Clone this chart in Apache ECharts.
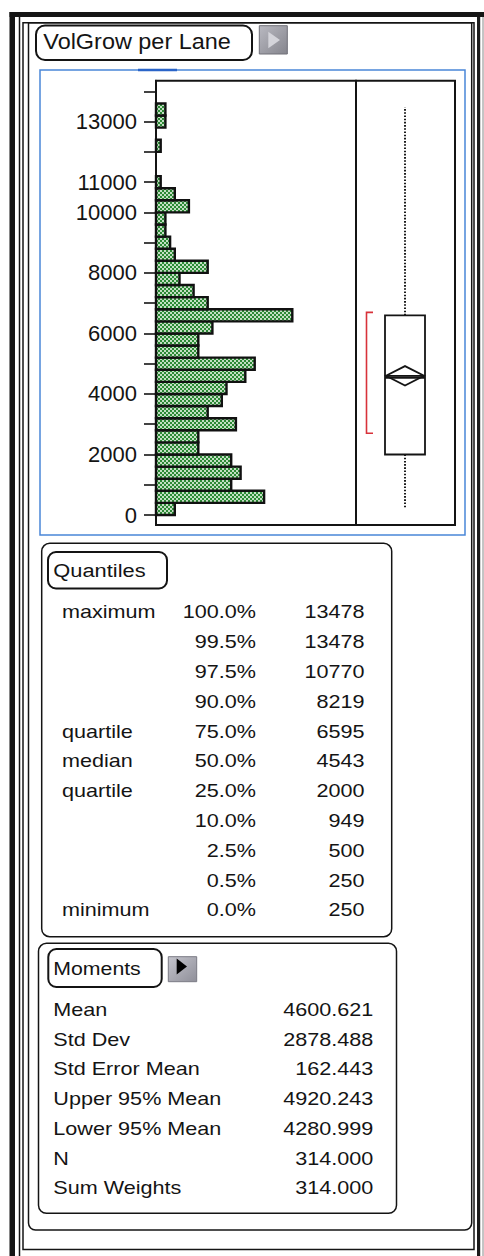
<!DOCTYPE html>
<html>
<head>
<meta charset="utf-8">
<script src="https://cdn.jsdelivr.net/npm/echarts@6/dist/echarts.min.js"></script>
<style>
  html, body { margin: 0; padding: 0; background: #ffffff; }
  #main { width: 484px; height: 1256px; }
</style>
</head>
<body>
<div id="main"></div>
<script>
// Histogram of VolGrow per Lane: lower edge of each bin and its count
const binWidth = 400;
const binLows = [0, 400, 800, 1200, 1600, 2000, 2400, 2800, 3200, 3600, 4000, 4400,
  4800, 5200, 5600, 6000, 6400, 6800, 7200, 7600, 8000, 8400, 8800, 9200, 9600,
  10000, 10400, 10800, 11200, 11600, 12000, 12400, 12800, 13200];
const binCounts = [4, 23, 16, 18, 16, 9, 9, 17, 11, 14, 15, 19,
  21, 9, 9, 12, 29, 11, 8, 5, 11, 4, 3, 2, 2,
  7, 4, 1, 0, 0, 1, 0, 2, 2];

// Value axis ticks and the ticks that carry a label
const tickValues = [0, 1000, 2000, 3000, 4000, 5000, 6000, 7000, 8000, 9000, 10000,
  11000, 12000, 13000, 14000];
const tickLabelValues = [0, 2000, 4000, 6000, 8000, 10000, 11000, 13000];

// Quantiles report
const quantileNames = ['maximum', '', '', '', 'quartile', 'median', 'quartile', '', '', '', 'minimum'];
const quantilePercents = ['100.0%', '99.5%', '97.5%', '90.0%', '75.0%', '50.0%', '25.0%',
  '10.0%', '2.5%', '0.5%', '0.0%'];
const quantileValues = [13478, 13478, 10770, 8219, 6595, 4543, 2000, 949, 500, 250, 250];

// Moments report
const momentNames = ['Mean', 'Std Dev', 'Std Error Mean', 'Upper 95% Mean', 'Lower 95% Mean',
  'N', 'Sum Weights'];
const momentValues = [4600.621, 2878.488, 162.443, 4920.243, 4280.999, 314.000, 314.000];

// Shortest half (densest 50% of the data)
const shortestHalf = [2700, 6695];

// ---------------------------------------------------------------------------
const FONT = '"Liberation Sans", Arial, Helvetica, sans-serif';
const INK = '#141414';

const chart = echarts.init(document.getElementById('main'), null,
  { renderer: 'svg', width: 484, height: 1256 });

// checkered green fill used by the histogram bars
const tile = document.createElement('canvas');
tile.width = 4; tile.height = 4;
const tctx = tile.getContext('2d');
tctx.fillStyle = '#c2dfc2'; tctx.fillRect(0, 0, 4, 4);
tctx.fillStyle = '#2c8935'; tctx.fillRect(0, 0, 2, 2); tctx.fillRect(2, 2, 2, 2);
const barFill = { image: tile, repeat: 'repeat' };

function label(x, y, text, size, sx, align) {
  const a = align || 'left';
  return {
    type: 'text', x: x, y: y, scaleX: sx || 1,
    style: {
      text: text, font: size + 'px ' + FONT, fill: INK,
      textAlign: a, align: a, textVerticalAlign: 'middle', verticalAlign: 'middle'
    }
  };
}
function box(x, y, w, h, r, lw) {
  return { type: 'rect', shape: { x: x, y: y, width: w, height: h, r: r || 0 },
    style: { fill: null, stroke: INK, lineWidth: lw || 1.5 } };
}
function fillRect(x, y, w, h, color) {
  return { type: 'rect', shape: { x: x, y: y, width: w, height: h }, style: { fill: color } };
}

const elements = [];

// window frame
elements.push(fillRect(9.5, 12, 474.5, 5, '#151515'));
elements.push(fillRect(9.5, 12, 5.5, 1244, '#151515'));
elements.push(fillRect(477, 17, 3.2, 1239, '#1c1c1c'));
elements.push({ type: 'line', shape: { x1: 483, y1: 17, x2: 483, y2: 1256 },
  style: { stroke: '#8a8a8a', lineWidth: 1 } });
elements.push({ type: 'line', shape: { x1: 19.5, y1: 17, x2: 19.5, y2: 1256 },
  style: { stroke: INK, lineWidth: 1.5 } });
elements.push(box(23, 22.7, 451, 1226.8, 0, 1.5));
elements.push(box(28.5, 22.7, 443.2, 1207.3, [0, 0, 7, 7], 1.5));

// title tab and its disclosure button
elements.push(box(36, 25.5, 216, 34.5, 9, 2));
elements.push(label(43.3, 41.5, 'VolGrow per Lane', 22, 1.065));
elements.push({ type: 'rect', shape: { x: 259.3, y: 25.7, width: 28, height: 28.3 },
  style: { fill: new echarts.graphic.LinearGradient(0, 0, 1, 1,
    [{ offset: 0, color: '#b9b9c1' }, { offset: 1, color: '#85858d' }]),
    stroke: '#707078', lineWidth: 1 } });
elements.push({ type: 'polygon', shape: { points: [[268.3, 31.7], [280, 40], [268.3, 48.3]] },
  style: { fill: '#d4d4da' } });

// selection frame round the plots
elements.push({ type: 'rect', shape: { x: 40, y: 70, width: 425, height: 465 },
  style: { fill: null, stroke: '#4a86d8', lineWidth: 1.5 } });
elements.push({ type: 'line', shape: { x1: 138, y1: 70, x2: 177, y2: 70 },
  style: { stroke: '#2a64c8', lineWidth: 2.5 } });

// Quantiles panel
elements.push(box(41.7, 543.3, 350, 393.4, 8, 1.5));
elements.push(box(48, 552, 119, 36.5, 8, 2));
elements.push(label(53.3, 570.3, 'Quantiles', 19, 1.15));
const qRow0 = 612, qStep = 29.8;
quantileValues.forEach(function (v, i) {
  const y = qRow0 + i * qStep;
  if (quantileNames[i]) elements.push(label(62, y, quantileNames[i], 18, 1.2));
  elements.push(label(256, y, quantilePercents[i], 18, 1.2, 'right'));
  elements.push(label(364.5, y, String(v), 18, 1.2, 'right'));
});

// Moments panel
elements.push(box(38.5, 943.3, 358, 270, 8, 1.5));
elements.push(box(48.3, 949, 113.4, 38, 8, 2));
elements.push(label(53.3, 968.7, 'Moments', 19, 1.12));
elements.push({ type: 'rect', shape: { x: 168.3, y: 956.7, width: 28.4, height: 25 },
  style: { fill: new echarts.graphic.LinearGradient(0, 0, 1, 1,
    [{ offset: 0, color: '#c4c4cc' }, { offset: 1, color: '#8f8f99' }]),
    stroke: '#7a7a84', lineWidth: 1 } });
elements.push({ type: 'polygon', shape: { points: [[176.7, 958.6], [187, 966.6], [176.7, 974.6]] },
  style: { fill: '#000000' } });
const mRow0 = 1009.5, mStep = 29.75;
momentValues.forEach(function (v, i) {
  const y = mRow0 + i * mStep;
  elements.push(label(53.3, y, momentNames[i], 18, 1.2));
  elements.push(label(373.3, y, v.toFixed(3), 18, 1.2, 'right'));
});

// ---------------------------------------------------------------------------
const yMin = -330, yMax = 14352;

const option = {
  backgroundColor: '#ffffff',
  animation: false,
  grid: [
    { left: 156, top: 80.7, width: 200, height: 444.3, show: true, borderColor: INK,
      borderWidth: 2, backgroundColor: 'transparent', containLabel: false, outerBoundsMode: 'none' },
    { left: 356, top: 80.7, width: 99, height: 444.3, show: true, borderColor: INK,
      borderWidth: 2, backgroundColor: 'transparent', containLabel: false, outerBoundsMode: 'none' }
  ],
  xAxis: [
    { type: 'value', gridIndex: 0, min: 0, max: 42.55, show: false },
    { type: 'value', gridIndex: 1, min: 0, max: 99, show: false }
  ],
  yAxis: [
    {
      type: 'value', gridIndex: 0, min: yMin, max: yMax,
      axisLine: { show: true, lineStyle: { color: INK, width: 2 } },
      axisTick: { show: true, inside: false, length: 12, customValues: tickValues,
        lineStyle: { color: INK, width: 1.6 } },
      axisLabel: { show: true, customValues: tickLabelValues, margin: 19,
        fontSize: 22, fontFamily: FONT, color: INK, hideOverlap: false,
        formatter: function (v) { return String(v); } },
      splitLine: { show: false }
    },
    { type: 'value', gridIndex: 1, min: yMin, max: yMax, show: false, splitLine: { show: false } }
  ],
  series: [
    {
      // histogram bars, drawn sideways along the value axis
      type: 'custom', xAxisIndex: 0, yAxisIndex: 0, clip: false,
      data: binLows.map(function (lo, i) { return [binCounts[i], lo, lo + binWidth]; }),
      encode: { x: 0, y: [1, 2] },
      renderItem: function (params, api) {
        const n = api.value(0), lo = api.value(1), hi = api.value(2);
        if (!n) return null;
        const p0 = api.coord([0, lo]);
        const p1 = api.coord([n, hi]);
        return {
          type: 'rect',
          shape: { x: p0[0], y: p1[1], width: p1[0] - p0[0], height: p0[1] - p1[1] },
          style: { fill: barFill, stroke: '#111111', lineWidth: 2.4 }
        };
      }
    },
    {
      // outlier box plot with mean diamond and shortest-half bracket
      type: 'custom', xAxisIndex: 1, yAxisIndex: 1, clip: false,
      data: [[0, quantileValues[6], quantileValues[5], quantileValues[4],
        quantileValues[10], quantileValues[0], momentValues[0], momentValues[4], momentValues[3],
        shortestHalf[0], shortestHalf[1]]],
      encode: { x: 0, y: [1, 2, 3, 4, 5, 6, 7, 8, 9, 10] },
      renderItem: function (params, api) {
        const q1 = api.value(1), med = api.value(2), q3 = api.value(3);
        const lo = api.value(4), hi = api.value(5), mean = api.value(6);
        const lo95 = api.value(7), up95 = api.value(8);
        const sh0 = api.value(9), sh1 = api.value(10);
        const cx = 49, hw = 20;
        const c = function (x, v) { return api.coord([x, v]); };
        const dotted = { stroke: '#1a1a1a', lineWidth: 2, lineDash: [1.6, 1.6] };
        const top = c(cx - hw, q3), bot = c(cx + hw, q1);
        return {
          type: 'group',
          children: [
            { type: 'line', shape: { x1: c(cx, q3)[0], y1: c(cx, q3)[1], x2: c(cx, hi)[0], y2: c(cx, hi)[1] }, style: dotted },
            { type: 'line', shape: { x1: c(cx, q1)[0], y1: c(cx, q1)[1], x2: c(cx, lo)[0], y2: c(cx, lo)[1] }, style: dotted },
            { type: 'rect', shape: { x: top[0], y: top[1], width: bot[0] - top[0], height: bot[1] - top[1] },
              style: { fill: '#ffffff', stroke: INK, lineWidth: 1.8 } },
            { type: 'line', shape: { x1: c(cx - hw, med)[0], y1: c(cx - hw, med)[1], x2: c(cx + hw, med)[0], y2: c(cx + hw, med)[1] },
              style: { stroke: INK, lineWidth: 2.5 } },
            { type: 'polygon', shape: { points: [c(cx - hw + 1, mean), c(cx, up95), c(cx + hw - 1, mean), c(cx, lo95)] },
              style: { fill: null, stroke: INK, lineWidth: 1.8 } },
            { type: 'line', shape: { x1: c(cx - hw, mean)[0], y1: c(cx - hw, mean)[1], x2: c(cx + hw, mean)[0], y2: c(cx + hw, mean)[1] },
              style: { stroke: INK, lineWidth: 1.5 } },
            { type: 'polyline', shape: { points: [c(17, sh1), c(10.5, sh1), c(10.5, sh0), c(17, sh0)] },
              style: { fill: null, stroke: '#d8323a', lineWidth: 1.6 } }
          ]
        };
      }
    }
  ],
  graphic: { elements: elements }
};

chart.setOption(option);
</script>
</body>
</html>
